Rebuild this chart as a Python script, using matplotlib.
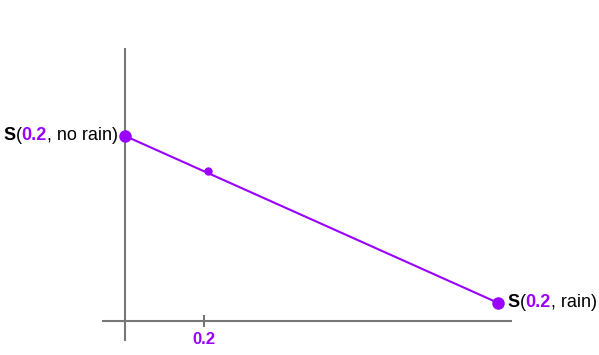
import matplotlib
matplotlib.use("Agg")
import matplotlib.pyplot as plt
from matplotlib.transforms import offset_copy

plt.rcParams['font.family'] = ['Liberation Sans', 'DejaVu Sans']

# data
point_x = [0.0, 0.21, 0.945]
point_y = [0.678, 0.549, 0.066]
point_sizes = [9, 6, 9]
tick_values = [0.2]
tick_labels = ["0.2"]
label_left = [("S", "bold", "black"), ("(", "normal", "black"), ("0.2", "bold", "#9900ff"),
              (", no rain)", "normal", "black")]
label_right = [("S", "bold", "black"), ("(", "normal", "black"), ("0.2", "bold", "#9900ff"),
               (", rain)", "normal", "black")]

purple = "#9900ff"
gray = "#777777"

W, H = 599, 355
fig = plt.figure(figsize=(W / 100, H / 100), dpi=100)
ax = fig.add_axes([0, 0, 1, 1])
ax.set_axis_off()
sx = 395.0  # px per x unit
sy = 273.0  # px per y unit
x0px, y0px = 125, 321
ax.set_xlim(-x0px / sx, (W - x0px) / sx)
ax.set_ylim(-(H - y0px) / sy, y0px / sy)

# axes lines
ax.plot([0, 0], [1.0, -(341 - y0px) / sy], color=gray, lw=1.5, solid_capstyle='butt', zorder=1)
ax.plot([(102 - x0px) / sx, (512 - x0px) / sx], [0, 0], color=gray, lw=1.5,
        solid_capstyle='butt', zorder=1)
for tv, tl in zip(tick_values, tick_labels):
    ax.plot([tv, tv], [6 / sy, -6 / sy], color=gray, lw=1.5, solid_capstyle='butt', zorder=1)
    ax.text(tv, -18 / sy, tl, color=purple, fontweight='bold', fontsize=12,
            ha='center', va='center')

# line and points
ax.plot([point_x[0], point_x[-1]], [point_y[0], point_y[-1]], color=purple, lw=1.5, zorder=2)
for x, y, s in zip(point_x, point_y, point_sizes):
    ax.plot([x], [y], 'o', color=purple, markersize=s, markeredgewidth=0, zorder=3)

renderer = fig.canvas.get_renderer()
FS = 13


def rich_text(x, y, pieces, align, offset_px, dy_px):
    widths = []
    for txt, wgt, col in pieces:
        t = ax.text(0, 0, txt, fontweight=wgt, fontsize=FS)
        widths.append(t.get_window_extent(renderer).width)
        t.remove()
    total = sum(widths)
    cur = offset_px if align == 'left' else offset_px - total
    for (txt, wgt, col), w in zip(pieces, widths):
        tr = offset_copy(ax.transData, fig=fig, x=cur * 72 / 100, y=dy_px * 72 / 100,
                         units='points')
        ax.text(x, y, txt, fontweight=wgt, fontsize=FS, color=col, transform=tr,
                ha='left', va='center_baseline')
        cur += w


rich_text(point_x[0], point_y[0], label_left, 'right', -7, 2.5)
rich_text(point_x[-1], point_y[-1], label_right, 'left', 9, 2)

fig.savefig("out.png", dpi=100)
